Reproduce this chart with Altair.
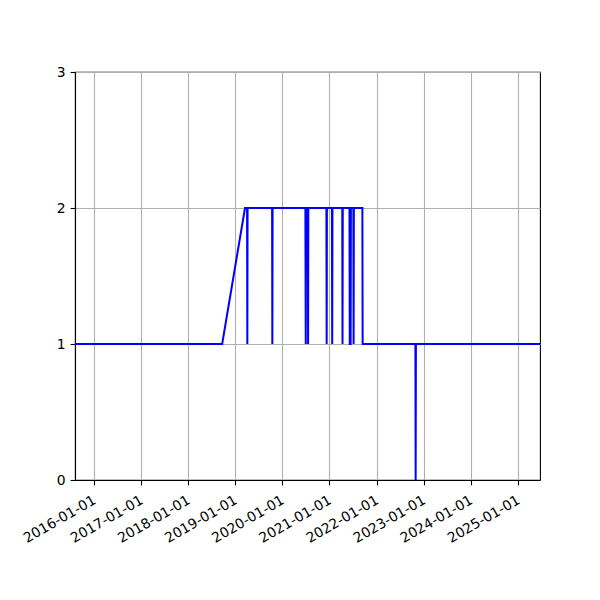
import altair as alt
import pandas as pd

dates = [
    "2015-08-08", "2018-09-22", "2019-03-18",
    "2019-04-03", "2019-04-05", "2019-04-07",
    "2019-10-14", "2019-10-16", "2019-10-18",
    "2020-06-28", "2020-07-01", "2020-07-03",
    "2020-07-17", "2020-07-19", "2020-07-21",
    "2020-12-08", "2020-12-10", "2020-12-12",
    "2021-01-20", "2021-01-22", "2021-01-24",
    "2021-04-10", "2021-04-12", "2021-04-14",
    "2021-06-05", "2021-06-07", "2021-06-14", "2021-06-16",
    "2021-07-05", "2021-07-07", "2021-07-09",
    "2021-09-13", "2021-09-15",
    "2022-10-29", "2022-10-31", "2022-11-02",
    "2025-06-21",
]
values = [
    1, 1, 2,
    2, 1, 2,
    2, 1, 2,
    2, 1, 2,
    2, 1, 2,
    2, 1, 2,
    2, 1, 2,
    2, 1, 2,
    2, 1, 1, 2,
    2, 1, 2,
    2, 1,
    1, 0, 1,
    1,
]
tick_years = [2016, 2017, 2018, 2019, 2020, 2021, 2022, 2023, 2024, 2025]
y_ticks = [0, 1, 2, 3]

df = pd.DataFrame({"date": dates, "value": values})

font = "DejaVu Sans"
chart = alt.Chart(df).mark_line(color="#0000ff", strokeWidth=2, clip=True).encode(
    x=alt.X(
        "date:T",
        scale=alt.Scale(type="utc", domain=[alt.DateTime(year=2015, month=8, date=8, utc=True),
                                            alt.DateTime(year=2025, month=6, date=21, utc=True)]),
        axis=alt.Axis(
            title=None,
            values=[alt.DateTime(year=y, month=1, date=1, utc=True) for y in tick_years],
            format="%Y-%m-%d",
            labelAngle=-30,
            labelAlign="right",
            labelBaseline="top",
            labelOverlap=False,
            labelFlush=False,
            labelOffset=-3,
            labelPadding=8,
            grid=True,
        ),
    ),
    y=alt.Y(
        "value:Q",
        scale=alt.Scale(domain=[0, 3], nice=False, zero=False),
        axis=alt.Axis(title=None, values=y_ticks, format="d", grid=True,
                      labelOverlap=False, labelFlush=False),
    ),
).properties(
    width=465,
    height=408,
    background="white",
    autosize=alt.AutoSizeParams(type="none"),
    padding={"left": 67, "top": 64, "right": 52, "bottom": 112},
).configure_view(
    stroke="black", strokeWidth=1.1
).configure_axis(
    domainColor="black",
    domainWidth=1.1,
    tickColor="black",
    tickWidth=1.1,
    tickSize=4.9,
    labelFont=font,
    labelFontSize=13.9,
    labelColor="black",
    labelPadding=4.9,
    gridColor="#b0b0b0",
    gridWidth=1.1,
    gridOpacity=1,
)

chart.save("out.html", embed_options={"renderer": "svg", "actions": False})
